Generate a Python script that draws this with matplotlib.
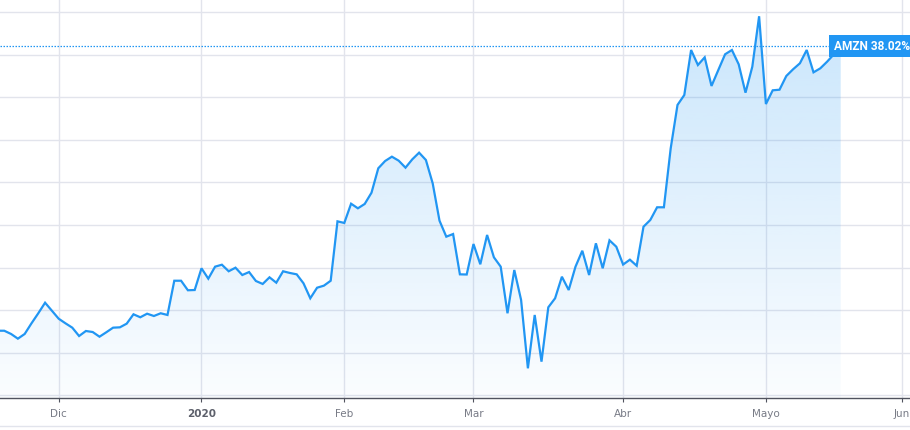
import numpy as np
import pandas as pd
import matplotlib
matplotlib.use("Agg")
import matplotlib.pyplot as plt
from matplotlib.colors import LinearSegmentedColormap

# ---------------- data ----------------
START = "2019-11-18"
CAL_END = "2020-06-05"
HOLIDAYS = ["2019-11-28", "2019-12-25", "2020-01-01", "2020-01-20",
            "2020-02-17", "2020-04-10", "2020-05-25"]

# AMZN % change, one value per trading day (Nov 18 2019 .. May 18 2020)
values = [
    4.60, 4.60, 4.22, 3.67, 4.22, 5.47, 6.65, 7.89, 6.95,            # Nov
    6.01, 5.47, 4.96, 3.98, 4.57, 4.45, 3.90, 4.42, 4.96, 5.00,      # Dec
    5.43, 6.53, 6.18, 6.60, 6.33, 6.65, 6.45, 10.47, 10.47, 9.35, 9.38,
    11.93, 10.71, 12.12, 12.35, 11.58, 12.00, 11.14, 11.49, 10.44,   # Jan
    10.09, 10.87, 10.24, 11.58, 11.38, 11.22, 10.17, 8.41, 9.65,
    9.89, 10.47, 17.44,
    17.25, 19.51, 18.97, 19.48, 20.80, 23.67, 24.52, 25.03, 24.56,   # Feb
    23.74, 24.72, 25.50, 24.64, 21.90, 17.52, 15.64, 15.95, 11.22, 11.20,
    14.78, 12.40, 15.84, 13.22, 12.12, 6.65, 11.73, 8.21, 0.19,      # Mar
    6.45, 0.97, 7.35, 8.41, 10.94, 9.38, 12.12, 13.99, 11.14,
    14.86, 11.93, 15.21, 14.46,
    12.37, 12.94, 12.23, 16.81, 17.60, 19.09, 19.09, 26.01, 31.10,   # Apr
    32.27, 37.55, 35.79, 36.69, 33.33, 35.20, 37.05, 37.55, 35.87,
    32.54, 35.59, 41.51,
    31.21, 32.82, 32.89, 34.50, 35.29, 35.99, 37.55, 34.93, 35.40,   # May
    36.18, 37.05, 38.02,
]
MONTH_LABELS = ["Dic", "2020", "Feb", "Mar", "Abr", "Mayo", "Jun"]
YEAR_LABEL = "2020"
LAST_LABEL = "AMZN 38.02%"
GRID_Y = [-3, 2, 7, 12, 17, 22, 27, 32, 37, 42]

# ---------------- styling ----------------
BLUE = "#2196F3"
GRID = "#E2E4EC"
TICK_COL = "#787B86"

days = pd.bdate_range(START, CAL_END, freq="C", holidays=HOLIDAYS)
x = np.arange(len(values))
y = np.array(values)
month_idx = [i for i in range(1, len(days)) if days[i].month != days[i - 1].month]

fig = plt.figure(figsize=(9.1, 4.3), dpi=100)
fig.patch.set_facecolor("white")
ax = fig.add_axes([0, (430 - 398.3) / 430, 1, 398.3 / 430])
ax.set_facecolor("white")

XMIN, XMAX = 0.37, 134.19
YMIN, YMAX = -3.33, 43.42
ax.set_xlim(XMIN, XMAX)
ax.set_ylim(YMIN, YMAX)

# grid
for gy in GRID_Y:
    ax.axhline(gy, color=GRID, lw=1, zorder=0)
for mi in month_idx:
    ax.axvline(mi, color=GRID, lw=1, zorder=0)

# gradient fill under the line
cmap = LinearSegmentedColormap.from_list(
    "fade", [(33/255, 150/255, 243/255, 0.02), (33/255, 150/255, 243/255, 0.25)])
grad = np.linspace(0, 1, 256).reshape(-1, 1)
im = ax.imshow(grad, extent=[XMIN, XMAX, YMIN, YMAX], origin="lower",
               aspect="auto", cmap=cmap, zorder=1, interpolation="bicubic")
poly = ax.fill_between(x, y, YMIN, facecolor="none", edgecolor="none")
im.set_clip_path(poly.get_paths()[0], transform=ax.transData)

ax.plot(x, y, color=BLUE, lw=1.6, zorder=3, solid_joinstyle="miter")

# last value dotted line + label
ax.plot([XMIN, x[-1]], [y[-1], y[-1]], color=BLUE, lw=0.9,
        linestyle=(0, (1.2, 1.2)), zorder=2)
ax.text(0.9165, y[-1], LAST_LABEL, transform=ax.get_yaxis_transform(),
        ha="left", va="center", color="white", fontsize=8.6, fontweight="bold",
        family=["Liberation Sans Narrow", "Roboto", "DejaVu Sans"],
        bbox=dict(boxstyle="square,pad=0.38", facecolor=BLUE, edgecolor="none"),
        zorder=5, clip_on=False)

# axes styling
for s in ["top", "left", "right"]:
    ax.spines[s].set_visible(False)
ax.spines["bottom"].set_color("#50535E")
ax.spines["bottom"].set_linewidth(1)
ax.set_yticks([])
ax.set_xticks(month_idx)
ax.set_xticklabels(MONTH_LABELS)
ax.tick_params(axis="x", length=3, width=0.8, color="#50535E", pad=4.5,
               labelsize=7.5, labelcolor=TICK_COL)
for lab in ax.get_xticklabels():
    if lab.get_text() == YEAR_LABEL:
        lab.set_color("#5D606B")
        lab.set_fontweight("semibold")

# bottom border line
fig.add_artist(plt.Line2D([0, 1], [4 / 430, 4 / 430], color=GRID, lw=1,
                          transform=fig.transFigure))

fig.savefig("out.png", dpi=100, facecolor="white")
